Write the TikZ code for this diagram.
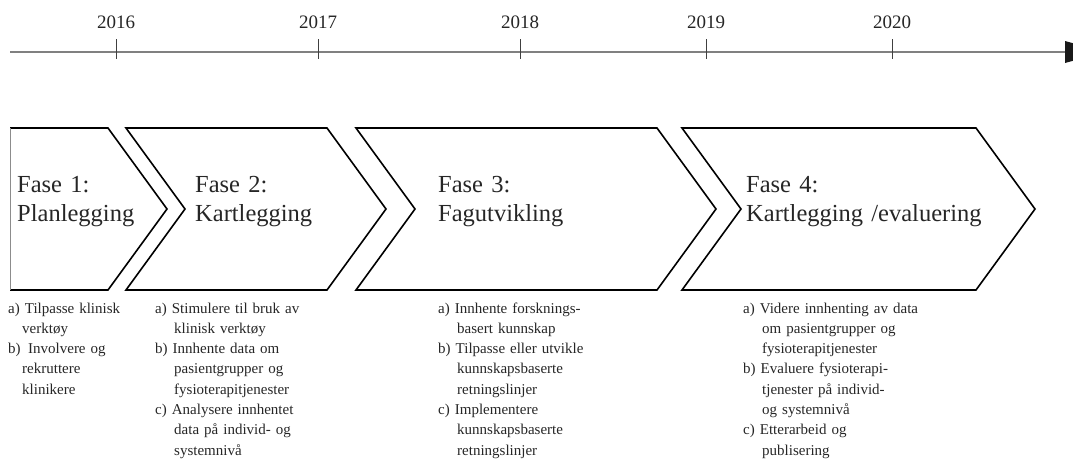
\documentclass[tikz,border=0pt]{standalone}
\usepackage{fontspec}
\setmainfont{Liberation Serif}
\begin{document}
\begin{tikzpicture}[x=1pt,y=-1pt,
  chev/.style={draw=black,line width=1.6pt,line join=miter},
  edge1/.style={draw=black!45,line width=1pt},
  phase/.style={anchor=base west,inner sep=0pt,text width=300pt,align=left,font=\fontsize{24.5}{29}\selectfont,text=black!85},
  item/.style={anchor=base west,inner sep=0pt,text width=250pt,align=left,font=\fontsize{15}{20.3}\selectfont,text=black!85},
  year/.style={anchor=base,inner sep=0pt,font=\fontsize{19}{22}\selectfont,text=black!85},
  tickline/.style={draw=black!75,line width=1pt},
  timeline/.style={draw=black!50,line width=2pt}]
\useasboundingbox (0,0) rectangle (1073,463);

% timeline
\coordinate (tl0) at (10,52);
\coordinate (tl1) at (1066,52);
\draw[timeline] (tl0) -- (tl1);
\fill[black!90] (1065,41) -- (1105,52) -- (1065,63) -- cycle;
\foreach \yr/\x in {2016/116,2017/318,2018/520,2019/706,2020/892}{
  \coordinate (t\yr a) at (\x,39);
  \coordinate (t\yr b) at (\x,59);
  \draw[tickline] (t\yr a) -- (t\yr b);
  \node[year] (y\yr) at (\x,28) {\yr};
}

% chevrons
\draw[chev] (10,128) -- (108,128) -- (167,209) -- (108,290) -- (10,290);
\draw[edge1] (10,128) -- (10,290);
\draw[chev] (126,128) -- (327,128) -- (386,209) -- (327,290) -- (126,290) -- (185,209) -- cycle;
\draw[chev] (356,128) -- (657,128) -- (716,209) -- (657,290) -- (356,290) -- (415,209) -- cycle;
\draw[chev] (682,128) -- (976,128) -- (1035,209) -- (976,290) -- (682,290) -- (741,209) -- cycle;

% phase labels
\node[phase] (p1) at (17,192) {Fase 1:\\Planlegging};
\node[phase] (p2) at (195,192) {Fase 2:\\Kartlegging};
\node[phase] (p3) at (438,192) {Fase 3:\\Fagutvikling};
\node[phase] (p4) at (746,192) {Fase 4:\\Kartlegging /evaluering};

% items
\node[item] (i1) at (8,313) {a) Tilpasse klinisk\\\hspace*{14pt}verktøy\\b)\, Involvere og\\\hspace*{14pt}rekruttere\\\hspace*{14pt}klinikere};
\node[item] (i2) at (155,313) {a) Stimulere til bruk av\\\hspace*{19pt}klinisk verktøy\\b) Innhente data om\\\hspace*{19pt}pasientgrupper og\\\hspace*{19pt}fysioterapitjenester\\c) Analysere innhentet\\\hspace*{19pt}data på individ- og\\\hspace*{19pt}systemnivå};
\node[item] (i3) at (438,313) {a) Innhente forsknings-\\\hspace*{19pt}basert kunnskap\\b) Tilpasse eller utvikle\\\hspace*{19pt}kunnskapsbaserte\\\hspace*{19pt}retningslinjer\\c) Implementere\\\hspace*{19pt}kunnskapsbaserte\\\hspace*{19pt}retningslinjer};
\node[item] (i4) at (743,313) {a) Videre innhenting av data\\\hspace*{19pt}om pasientgrupper og\\\hspace*{19pt}fysioterapitjenester\\b) Evaluere fysioterapi-\\\hspace*{19pt}tjenester på individ-\\\hspace*{19pt}og systemnivå\\c) Etterarbeid og\\\hspace*{19pt}publisering};
\end{tikzpicture}
\end{document}
